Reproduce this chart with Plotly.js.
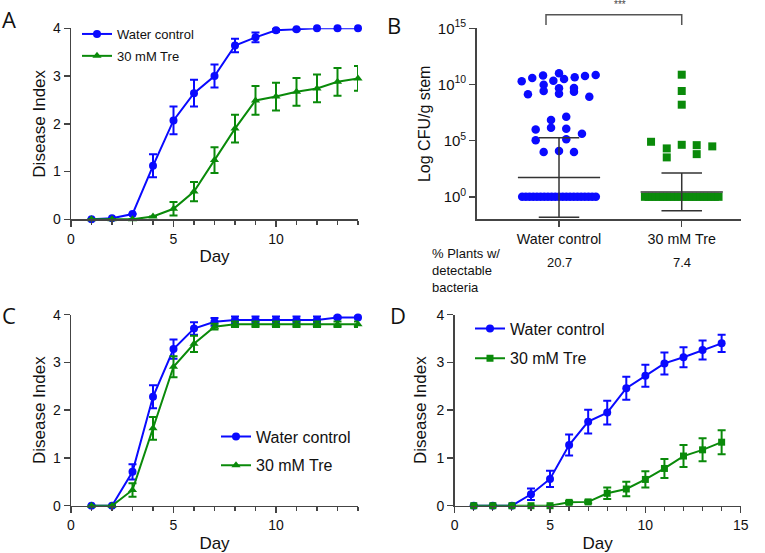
<!DOCTYPE html>
<html><head><meta charset="utf-8">
<script src="https://cdn.plot.ly/plotly-3.0.1.min.js"></script>
<style>html,body{margin:0;padding:0;background:#fff}#chart{width:765px;height:553px}</style>
</head><body><div id="chart"></div>
<script>
// ---------- data ----------
const days = [1,2,3,4,5,6,7,8,9,10,11,12,13,14];
const seriesNames = ['Water control', '30 mM Tre'];

// Panel A
const aWater    = [0,0.02,0.11,1.12,2.07,2.64,3.00,3.64,3.81,3.96,3.98,4.00,4.00,4.00];
const aWaterErr = [0,0,0,0.24,0.29,0.28,0.24,0.14,0.10,0.03,0.02,0,0,0];
const aTre      = [0,0,0,0.06,0.22,0.58,1.24,1.90,2.49,2.57,2.67,2.74,2.88,2.95];
const aTreErr   = [0,0,0,0,0.14,0.20,0.27,0.29,0.30,0.29,0.29,0.29,0.29,0.26];

// Panel C
const cWater    = [0,0,0.71,2.28,3.28,3.71,3.85,3.89,3.89,3.89,3.89,3.89,3.94,3.94];
const cWaterErr = [0,0,0.16,0.24,0.20,0.13,0.08,0.07,0.07,0.07,0.07,0.07,0.02,0.02];
const cTre      = [0,0,0.33,1.62,2.91,3.39,3.75,3.80,3.80,3.80,3.80,3.80,3.80,3.80];
const cTreErr   = [0,0,0.14,0.24,0.22,0.17,0.06,0.06,0.06,0.06,0.06,0.06,0.06,0.06];

// Panel D
const dWater    = [0,0,0,0.24,0.56,1.27,1.76,1.95,2.46,2.72,2.98,3.11,3.26,3.40];
const dWaterErr = [0,0,0,0.12,0.17,0.22,0.25,0.25,0.24,0.23,0.23,0.21,0.20,0.18];
const dTre      = [0,0,0,0,0,0.07,0.08,0.26,0.35,0.55,0.78,1.04,1.17,1.33];
const dTreErr   = [0,0,0,0,0,0.03,0.03,0.12,0.15,0.17,0.20,0.23,0.24,0.25];

// Panel B (log10 CFU/g stem; jitter = horizontal offset within category)
const bCategories = ['Water control', '30 mM Tre'];
const bWaterLog    = [10.28,10.58,10.79,11.00,10.34,10.49,10.64,10.76,10.85,9.98,9.12,9.42,9.66,9.18,9.69,9.36,8.91,
                      6.84,7.13,6.00,6.15,6.06,5.62,5.03,5.12,3.98,4.07,3.98];
const bWaterJitter = [-0.304,-0.218,-0.130,0,-0.046,0.041,0.128,0.212,0.299,-0.125,-0.253,-0.125,0,0,0.122,0.122,0.247,
                      -0.065,0.059,-0.19,-0.065,0.059,0.187,-0.19,0.059,-0.125,0,0.122];
const bWaterZeroJitter = [-0.30,-0.27,-0.24,-0.21,-0.18,-0.15,-0.12,-0.09,-0.06,-0.03,0,0.03,0.06,0.09,0.12,0.15,0.18,0.21,0.24,0.27,0.30];
const bTreLog    = [10.87,9.42,8.20,4.90,4.31,3.51,4.63,4.60,3.80,4.49];
const bTreJitter = [0,0,0,-0.25,-0.122,-0.122,0,0.122,0.122,0.249];
const bTreZeroJitter = [-0.30,-0.27,-0.24,-0.21,-0.18,-0.15,-0.12,-0.09,-0.06,-0.03,0,0.03,0.06,0.09,0.12,0.15,0.18,0.21,0.24,0.27,0.30];
const bMeanLog  = [1.73, 0.42];
const bUpperLog = [5.26, 2.11];
const bLowerLog = [-1.81, -1.25];
const bPercent  = ['20.7', '7.4'];
const bYTickVals = [1, 1e5, 1e10, 1e15];
const bYTickText = ['10<sup>0</sup>', '10<sup>5</sup>', '10<sup>10</sup>', '10<sup>15</sup>'];

// ---------- styles ----------
const BLUE = '#0a0aff', GREEN = '#0a8a0a', AXC = '#444';
const FONT = 'Liberation Sans, Arial, sans-serif';
const W = 765, H = 553;
const px = v => v / W, py = v => 1 - v / H;

function line(x, y, err, color, symbol, xa, ya, name, legend, size) {
  return {
    x: x, y: y, type: 'scatter', mode: 'lines+markers', name: name,
    xaxis: xa, yaxis: ya, legend: legend, legendgroup: legend + name,
    line: {color: color, width: 2},
    marker: {color: color, symbol: symbol, size: size || 8},
    error_y: {type: 'data', array: err, visible: true, color: color, thickness: 2, width: 4},
    cliponaxis: false, hoverinfo: 'skip'
  };
}

const traces = [
  line(days, aWater, aWaterErr, BLUE, 'circle', 'x', 'y', seriesNames[0], 'legend'),
  line(days, aTre, aTreErr, GREEN, 'triangle-up', 'x', 'y', seriesNames[1], 'legend'),
  line(days, cWater, cWaterErr, BLUE, 'circle', 'x3', 'y3', seriesNames[0], 'legend2'),
  line(days, cTre, cTreErr, GREEN, 'triangle-up', 'x3', 'y3', seriesNames[1], 'legend2'),
  line(days, dWater, dWaterErr, BLUE, 'circle', 'x4', 'y4', seriesNames[0], 'legend3'),
  line(days, dTre, dTreErr, GREEN, 'square', 'x4', 'y4', seriesNames[1], 'legend3', 7)
];

// Panel B scatter points
const pow10 = v => Math.pow(10, v);
traces.push({
  x: bWaterZeroJitter.map(j => 1 + j).concat(bWaterJitter.map(j => 1 + j)),
  y: bWaterZeroJitter.map(() => 1).concat(bWaterLog.map(pow10)),
  type: 'scatter', mode: 'markers', xaxis: 'x2', yaxis: 'y2', showlegend: false,
  marker: {color: BLUE, symbol: 'circle', size: 8.5}, cliponaxis: false, hoverinfo: 'skip'
});
traces.push({
  x: bTreZeroJitter.map(j => 2 + j).concat(bTreJitter.map(j => 2 + j)),
  y: bTreZeroJitter.map(() => 1).concat(bTreLog.map(pow10)),
  type: 'scatter', mode: 'markers', xaxis: 'x2', yaxis: 'y2', showlegend: false,
  marker: {color: GREEN, symbol: 'square', size: 8}, cliponaxis: false, hoverinfo: 'skip'
});
// mean and error bars for B
const MEANHW = 0.335, CAPHW = 0.165;
bCategories.forEach((c, i) => {
  const cx = i + 1;
  const segs = [
    [[cx - MEANHW, cx + MEANHW], [bMeanLog[i], bMeanLog[i]]],
    [[cx, cx], [bLowerLog[i], bUpperLog[i]]],
    [[cx - CAPHW, cx + CAPHW], [bUpperLog[i], bUpperLog[i]]],
    [[cx - CAPHW, cx + CAPHW], [bLowerLog[i], bLowerLog[i]]]
  ];
  segs.forEach(s => traces.push({
    x: s[0], y: s[1].map(pow10), type: 'scatter', mode: 'lines', xaxis: 'x2', yaxis: 'y2',
    showlegend: false, line: {color: '#333', width: 1.5}, cliponaxis: false, hoverinfo: 'skip'
  }));
});

function ax(extra) {
  return Object.assign({
    showline: true, linecolor: AXC, linewidth: 1.5, ticks: 'outside', tickcolor: AXC,
    tickwidth: 1.5, ticklen: 6, showgrid: false, zeroline: false, fixedrange: true,
    tickfont: {family: FONT, size: 14, color: '#111'}
  }, extra);
}
const dayMinor = {dtick: 1, ticklen: 4, tickcolor: AXC, tickwidth: 1.2, ticks: 'outside', showgrid: false};
const titleFont = {family: FONT, size: 17, color: '#111'};

const topY = [py(219.3), py(28.3)];
const botY = [py(505.7), py(314.7)];
const leftX = [px(71), px(358)];

const legendBase = {xanchor: 'left', yanchor: 'top', bgcolor: 'rgba(0,0,0,0)', borderwidth: 0,
  itemclick: false};

const layout = {
  width: W, height: H, margin: {l: 0, r: 0, t: 0, b: 0},
  paper_bgcolor: '#fff', plot_bgcolor: '#fff', showlegend: true,
  font: {family: FONT, color: '#111'},
  xaxis: ax({domain: leftX, range: [0, 14], anchor: 'y', tickvals: [0, 5, 10], minor: dayMinor,
    title: {text: 'Day', font: titleFont, standoff: 4}}),
  yaxis: ax({domain: topY, range: [0, 4], anchor: 'x', tickvals: [0, 1, 2, 3, 4],
    title: {text: 'Disease Index', font: titleFont, standoff: 3}}),
  xaxis2: ax({domain: [px(476.7), px(741)], range: [0.3293, 2.483], anchor: 'y2',
    tickvals: [1, 2], ticktext: bCategories, tickfont: {family: FONT, size: 14.3, color: '#111'}}),
  yaxis2: ax({domain: topY, type: 'log', range: [-2, 15], anchor: 'x2', tickvals: bYTickVals, ticktext: bYTickText,
    tickfont: {family: FONT, size: 15, color: '#111'},
    title: {text: 'Log CFU/g stem', font: {family: FONT, size: 16, color: '#111'}, standoff: 3}}),
  xaxis3: ax({domain: leftX, range: [0, 14], anchor: 'y3', tickvals: [0, 5, 10], minor: dayMinor,
    title: {text: 'Day', font: titleFont, standoff: 5}}),
  yaxis3: ax({domain: botY, range: [0, 4], anchor: 'x3', tickvals: [0, 1, 2, 3, 4],
    title: {text: 'Disease Index', font: titleFont, standoff: 3}}),
  xaxis4: ax({domain: [px(454.7), px(740.7)], range: [0, 15], anchor: 'y4', tickvals: [0, 5, 10, 15], minor: dayMinor,
    title: {text: 'Day', font: titleFont, standoff: 5}}),
  yaxis4: ax({domain: botY, range: [0, 4], anchor: 'x4', tickvals: [0, 1, 2, 3, 4],
    title: {text: 'Disease Index', font: titleFont, standoff: 5}}),
  legend: Object.assign({}, legendBase, {x: px(77), y: py(19), tracegroupgap: 2,
    font: {family: FONT, size: 13, color: '#111'}}),
  legend2: Object.assign({}, legendBase, {x: px(216), y: py(419.5), tracegroupgap: 5,
    font: {family: FONT, size: 16, color: '#111'}}),
  legend3: Object.assign({}, legendBase, {x: px(470), y: py(311.5), tracegroupgap: 6,
    font: {family: FONT, size: 16, color: '#111'}}),
  shapes: [
    {type: 'path', xref: 'x2', yref: 'paper',
     path: `M 0.894 ${py(25)} L 0.894 ${py(14.7)} L 2 ${py(14.7)} L 2 ${py(25)}`,
     line: {color: '#555', width: 1.5}}
  ],
  annotations: [
    {text: 'A', x: px(9), y: py(19), xref: 'paper', yref: 'paper', showarrow: false, xanchor: 'center', yanchor: 'middle',
     font: {family: 'Open Sans', size: 22, color: '#111'}},
    {text: 'B', x: px(394), y: py(25), xref: 'paper', yref: 'paper', showarrow: false, xanchor: 'center', yanchor: 'middle',
     font: {family: 'Open Sans', size: 22, color: '#111'}},
    {text: 'C', x: px(9), y: py(315), xref: 'paper', yref: 'paper', showarrow: false, xanchor: 'center', yanchor: 'middle',
     font: {family: 'Open Sans', size: 22, color: '#111'}},
    {text: 'D', x: px(398), y: py(315), xref: 'paper', yref: 'paper', showarrow: false, xanchor: 'center', yanchor: 'middle',
     font: {family: 'Open Sans', size: 22, color: '#111'}},
    {text: '***', x: 1.5, xref: 'x2', y: py(5), yref: 'paper', showarrow: false, xanchor: 'center', yanchor: 'middle',
     font: {family: FONT, size: 10, color: '#444'}},
    {text: '% Plants w/<br>detectable<br>bacteria', x: px(430), y: py(270), xref: 'paper', yref: 'paper', showarrow: false,
     xanchor: 'left', yanchor: 'middle', align: 'left', font: {family: FONT, size: 13, color: '#111'}},
    {text: bPercent[0], x: 1, xref: 'x2', y: py(262), yref: 'paper', showarrow: false, xanchor: 'center', yanchor: 'middle',
     font: {family: FONT, size: 13, color: '#111'}},
    {text: bPercent[1], x: 2, xref: 'x2', y: py(262), yref: 'paper', showarrow: false, xanchor: 'center', yanchor: 'middle',
     font: {family: FONT, size: 13, color: '#111'}}
  ]
};

Plotly.newPlot('chart', traces, layout, {staticPlot: true, displayModeBar: false});
</script></body></html>
